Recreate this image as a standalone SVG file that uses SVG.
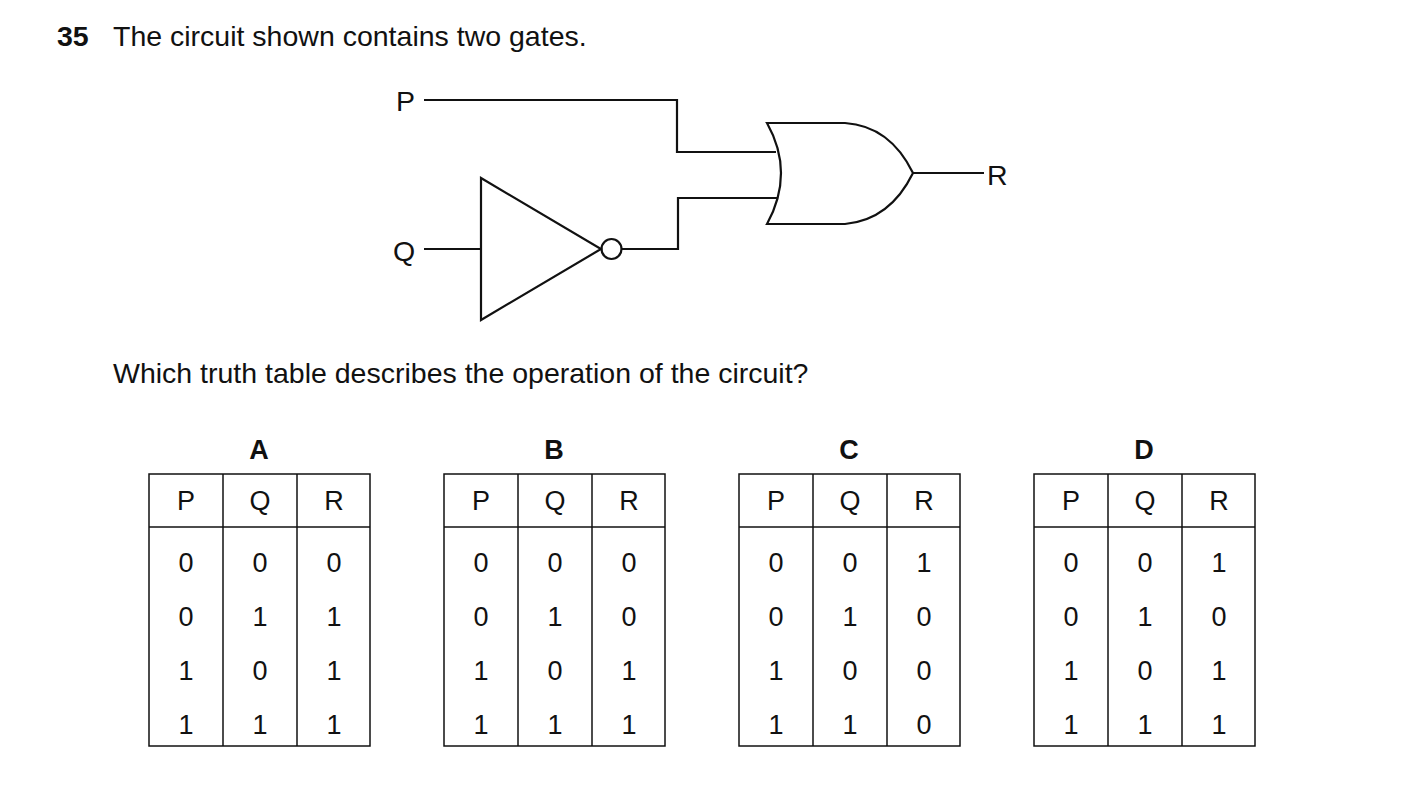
<svg xmlns="http://www.w3.org/2000/svg" width="1403" height="793" viewBox="0 0 1403 793">
<style>
text{font-family:"Liberation Sans",Arial,sans-serif;fill:#111}
.t{font-size:28.5px}
.c{font-size:27px;text-anchor:middle}
.b{font-weight:bold}
.w{fill:none;stroke:#111;stroke-width:2.2}
.g{fill:none;stroke:#111;stroke-width:1.5}
</style>
<rect width="1403" height="793" fill="#fff"/>
<text class="t b" x="57" y="46">35</text>
<text class="t" x="113" y="46">The circuit shown contains two gates.</text>
<text class="t" x="113" y="383">Which truth table describes the operation of the circuit?</text>
<g id="labels">
<text class="t" x="396" y="111">P</text>
<text class="t" x="393" y="261">Q</text>
<text class="t" x="987" y="185">R</text>
</g>
<g id="connectors" class="w">
<polyline points="424,100 677,100 677,152 776,152"/>
<polyline points="424,249 481,249"/>
<polyline points="622,249 678,249 678,198 777,198"/>
<line x1="913" y1="173" x2="984" y2="173"/>
</g>
<g id="not" class="w">
<polygon points="481,178 481,320 601,249"/>
<circle cx="611.5" cy="249" r="10"/>
</g>
<g id="or" class="w">
<path d="M767,123 Q795,173 767,224 L845,224 Q890,220 913,173 Q890,126 845,123 Z"/>
</g>
<g id="tables">
<g id="tA" transform="translate(0,0)">
<text class="c b" x="259" y="459">A</text>
<rect class="g" x="149" y="474" width="221" height="272"/>
<line class="g" x1="223" y1="474" x2="223" y2="746"/><line class="g" x1="297" y1="474" x2="297" y2="746"/><line class="g" x1="149" y1="527" x2="370" y2="527"/>
<text class="c" x="186" y="510">P</text><text class="c" x="260" y="510">Q</text><text class="c" x="334" y="510">R</text>
<text class="c" x="186" y="572">0</text><text class="c" x="260" y="572">0</text><text class="c" x="334" y="572">0</text>
<text class="c" x="186" y="626">0</text><text class="c" x="260" y="626">1</text><text class="c" x="334" y="626">1</text>
<text class="c" x="186" y="680">1</text><text class="c" x="260" y="680">0</text><text class="c" x="334" y="680">1</text>
<text class="c" x="186" y="734">1</text><text class="c" x="260" y="734">1</text><text class="c" x="334" y="734">1</text>
</g>
<g id="tB" transform="translate(295,0)">
<text class="c b" x="259" y="459">B</text>
<rect class="g" x="149" y="474" width="221" height="272"/>
<line class="g" x1="223" y1="474" x2="223" y2="746"/><line class="g" x1="297" y1="474" x2="297" y2="746"/><line class="g" x1="149" y1="527" x2="370" y2="527"/>
<text class="c" x="186" y="510">P</text><text class="c" x="260" y="510">Q</text><text class="c" x="334" y="510">R</text>
<text class="c" x="186" y="572">0</text><text class="c" x="260" y="572">0</text><text class="c" x="334" y="572">0</text>
<text class="c" x="186" y="626">0</text><text class="c" x="260" y="626">1</text><text class="c" x="334" y="626">0</text>
<text class="c" x="186" y="680">1</text><text class="c" x="260" y="680">0</text><text class="c" x="334" y="680">1</text>
<text class="c" x="186" y="734">1</text><text class="c" x="260" y="734">1</text><text class="c" x="334" y="734">1</text>
</g>
<g id="tC" transform="translate(590,0)">
<text class="c b" x="259" y="459">C</text>
<rect class="g" x="149" y="474" width="221" height="272"/>
<line class="g" x1="223" y1="474" x2="223" y2="746"/><line class="g" x1="297" y1="474" x2="297" y2="746"/><line class="g" x1="149" y1="527" x2="370" y2="527"/>
<text class="c" x="186" y="510">P</text><text class="c" x="260" y="510">Q</text><text class="c" x="334" y="510">R</text>
<text class="c" x="186" y="572">0</text><text class="c" x="260" y="572">0</text><text class="c" x="334" y="572">1</text>
<text class="c" x="186" y="626">0</text><text class="c" x="260" y="626">1</text><text class="c" x="334" y="626">0</text>
<text class="c" x="186" y="680">1</text><text class="c" x="260" y="680">0</text><text class="c" x="334" y="680">0</text>
<text class="c" x="186" y="734">1</text><text class="c" x="260" y="734">1</text><text class="c" x="334" y="734">0</text>
</g>
<g id="tD" transform="translate(885,0)">
<text class="c b" x="259" y="459">D</text>
<rect class="g" x="149" y="474" width="221" height="272"/>
<line class="g" x1="223" y1="474" x2="223" y2="746"/><line class="g" x1="297" y1="474" x2="297" y2="746"/><line class="g" x1="149" y1="527" x2="370" y2="527"/>
<text class="c" x="186" y="510">P</text><text class="c" x="260" y="510">Q</text><text class="c" x="334" y="510">R</text>
<text class="c" x="186" y="572">0</text><text class="c" x="260" y="572">0</text><text class="c" x="334" y="572">1</text>
<text class="c" x="186" y="626">0</text><text class="c" x="260" y="626">1</text><text class="c" x="334" y="626">0</text>
<text class="c" x="186" y="680">1</text><text class="c" x="260" y="680">0</text><text class="c" x="334" y="680">1</text>
<text class="c" x="186" y="734">1</text><text class="c" x="260" y="734">1</text><text class="c" x="334" y="734">1</text>
</g>
</g>
</svg>
